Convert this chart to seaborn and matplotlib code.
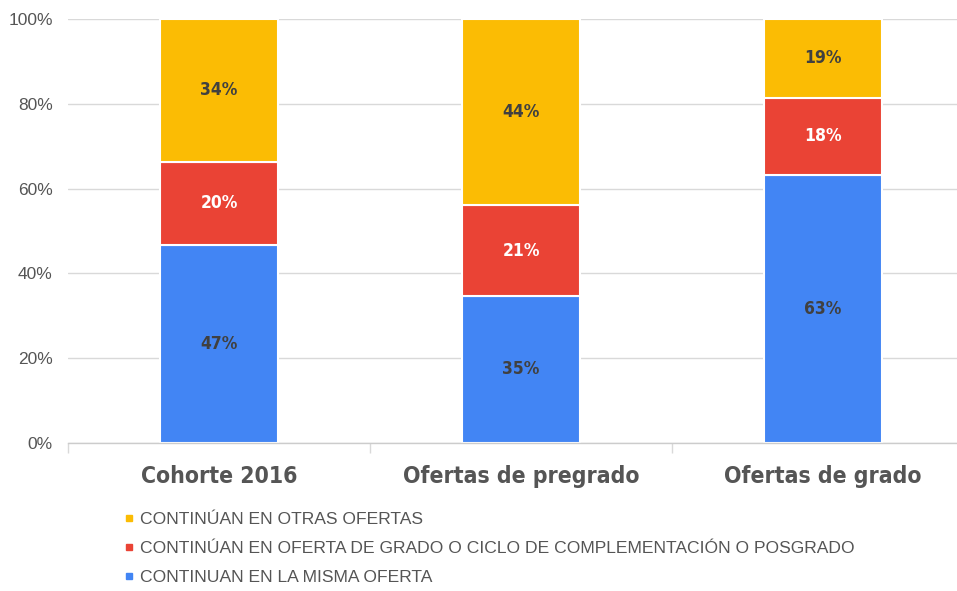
import matplotlib
matplotlib.use("Agg")
import matplotlib.pyplot as plt
import seaborn as sns
import numpy as np
from matplotlib.lines import Line2D
from matplotlib import font_manager
from matplotlib.font_manager import FontProperties

categories = ["Cohorte 2016", "Ofertas de pregrado", "Ofertas de grado"]
misma_oferta = [46.7, 34.7, 63.2]
grado_posgrado = [19.6, 21.4, 18.2]
otras_ofertas = [33.7, 43.9, 18.6]
series_names = ["CONTINUAN EN LA MISMA OFERTA",
                "CONTINÚAN EN OFERTA DE GRADO O CICLO DE COMPLEMENTACIÓN O POSGRADO",
                "CONTINÚAN EN OTRAS OFERTAS"]
colors = ["#4285F4", "#EA4335", "#FBBC04"]
label_colors = ["#404040", "white", "#404040"]
yticks = [0, 20, 40, 60, 80, 100]
ytick_labels = ["0%", "20%", "40%", "60%", "80%", "100%"]

sns.set_theme(style="white")
plt.rcParams['font.family'] = ["Liberation Sans", "DejaVu Sans"]

# find a narrow/condensed font file if installed
files = [f.fname for f in font_manager.fontManager.ttflist]
def pick(cands):
    for c in cands:
        for fn in files:
            if fn.endswith(c):
                return fn
    return None
narrow_bold = pick(["LiberationSansNarrow-Bold.ttf", "DejaVuSansCondensed-Bold.ttf"])

def fp_bold(size):
    if narrow_bold:
        return FontProperties(fname=narrow_bold, size=size)
    return FontProperties(family=["Liberation Sans", "DejaVu Sans"], weight="bold", size=size)

fig = plt.figure(figsize=(9.57, 5.91), dpi=100)
W, H = 957, 591
# axes spans 3 categories of ~302 px each; right end runs past the figure edge
ax = fig.add_axes([68 / W, (H - 443) / H, 906 / W, 424 / H])

series = [misma_oferta, grado_posgrado, otras_ofertas]
bottom = np.zeros(len(categories))
for vals, col, lc in zip(series, colors, label_colors):
    sns.barplot(x=categories, y=vals, bottom=bottom, color=col, width=0.39,
                edgecolor="white", linewidth=1.5, ax=ax, saturation=1)
    for i, v in enumerate(vals):
        ax.text(i, bottom[i] + v / 2, f"{round(v):d}%", ha="center", va="center",
                color=lc, fontproperties=fp_bold(12.5))
    bottom = bottom + np.array(vals)

ax.set_ylim(0, 100)
ax.set_xlim(-0.5, 2.5)
ax.set_yticks(yticks)
ax.set_yticklabels(ytick_labels, fontsize=12.5, color="#555555")
ax.tick_params(axis="y", length=0, pad=11)
ax.yaxis.grid(True, color="#d9d9d9", linewidth=1)
ax.set_axisbelow(True)
ax.set_xticks(range(len(categories)))
ax.set_xticklabels(categories, color="#555555")
for t in ax.get_xticklabels():
    t.set_fontproperties(fp_bold(16.5))
ax.tick_params(axis="x", length=0, pad=16)
ax.set_xticks([-0.5, 0.5, 1.5, 2.5], minor=True)
ax.tick_params(axis="x", which="minor", length=7, color="#d9d9d9", width=1, bottom=True)
for s in ["top", "right", "left"]:
    ax.spines[s].set_visible(False)
ax.spines["bottom"].set_color("#cccccc")
ax.spines["bottom"].set_linewidth(1)
ax.set_xlabel("")
ax.set_ylabel("")

handles = [Line2D([0], [0], marker="s", linestyle="none", markersize=5,
                  markerfacecolor=c, markeredgecolor=c) for c in colors[::-1]]
leg = fig.legend(handles, series_names[::-1], loc="upper left",
                 bbox_to_anchor=(108 / W, 1 - 496 / H), frameon=False,
                 handlelength=0.6, handletextpad=0.3, labelspacing=0.8,
                 prop=FontProperties(family=["Liberation Sans", "DejaVu Sans"], size=12.6))
for t in leg.get_texts():
    t.set_color("#555555")

fig.savefig("out.png", dpi=100, facecolor="white")
